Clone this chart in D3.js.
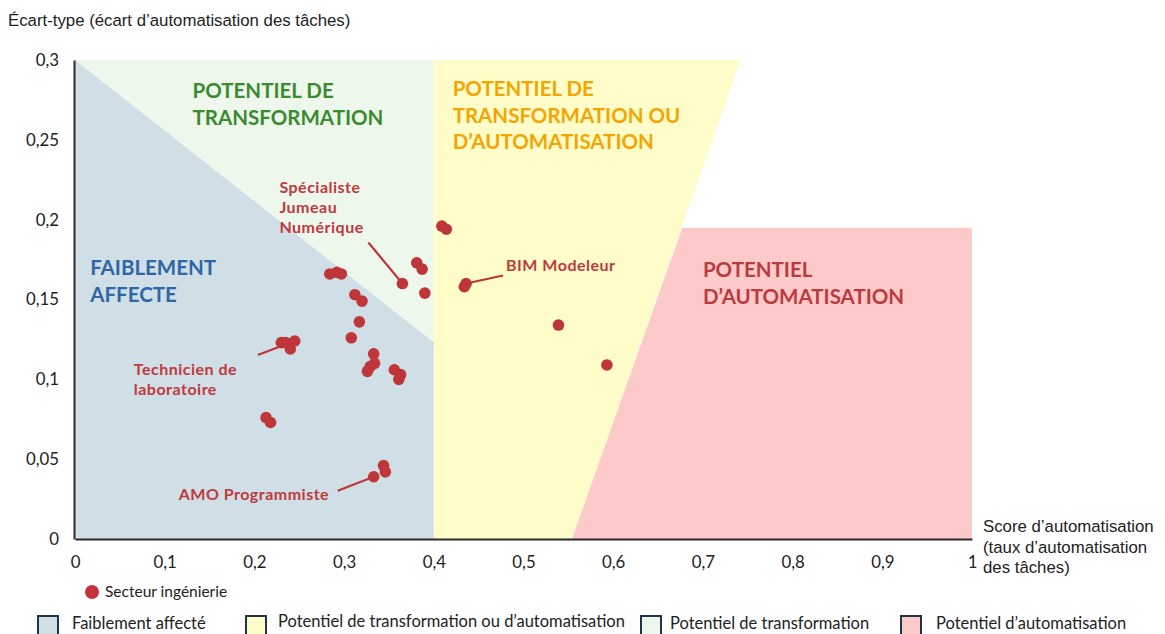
<!DOCTYPE html>
<html>
<head>
<meta charset="utf-8">
<script src="https://cdn.jsdelivr.net/npm/d3@7"></script>
<style>
  body { margin:0; background:#fff; }
  text { font-family: Lato, "Open Sans", sans-serif; }
</style>
</head>
<body>
<script>
// scatter: score d'automatisation (x) vs ecart-type (y), secteur ingenierie
var scoreAuto = [0.409,0.414,0.381,0.387,0.365,0.390,0.434,0.436,0.539,0.593,
  0.284,0.292,0.297,0.312,0.320,0.317,0.308,
  0.230,0.235,0.245,0.240,
  0.333,0.334,0.329,0.326,0.356,0.363,0.361,
  0.213,0.218,0.344,0.346,0.333];
var ecartType = [0.196,0.194,0.173,0.169,0.160,0.154,0.158,0.160,0.134,0.109,
  0.166,0.167,0.166,0.153,0.149,0.136,0.126,
  0.123,0.123,0.124,0.119,
  0.116,0.110,0.108,0.105,0.106,0.103,0.100,
  0.076,0.073,0.046,0.042,0.039];

var xTicks = [0,0.1,0.2,0.3,0.4,0.5,0.6,0.7,0.8,0.9,1];
var yTicks = [0,0.05,0.1,0.15,0.2,0.25,0.3];

// zones (data coords)
var zoneGreen  = [[0,0],[0,0.3],[0.4,0.3],[0.4,0]];
var zoneBlue   = [[0,0],[0,0.3],[0.4,0.123],[0.4,0]];
var zoneYellow = [[0.4,0],[0.4,0.3],[0.742,0.3],[0.554,0]];
var zonePink   = [[0.554,0],[0.677,0.195],[1,0.195],[1,0]];

// annotated points: index into the arrays above
var annoIdx   = [4, 7, 19, 32];
var annoText  = [['Spécialiste','Jumeau','Numérique'],['BIM Modeleur'],['Technicien de','laboratoire'],['AMO Programmiste']];

var legendNames = ['Faiblement affecté','Potentiel de transformation ou d\u2019automatisation','Potentiel de transformation','Potentiel d\u2019automatisation'];
var legendFills = ['#d0dee6','#fefcc8','#eef7ec','#fec9c9'];

var W = 1165, H = 634;
var svg = d3.select('body').append('svg').attr('width',W).attr('height',H);

var x = d3.scaleLinear().domain([0,1]).range([75,972]);
var y = d3.scaleLinear().domain([0,0.3]).range([539,60]);
var frNum = function(d){ return String(+d.toFixed(2)).replace('.',','); };

var line = d3.line().x(function(d){return x(d[0]);}).y(function(d){return y(d[1]);});
var zones = svg.append('g');
zones.append('path').attr('d',line(zoneGreen)+'Z').attr('fill','#eef7ec');
zones.append('path').attr('d',line(zoneBlue)+'Z').attr('fill','#d0dee6');
zones.append('path').attr('d',line(zoneYellow)+'Z').attr('fill','#fefcc8');
zones.append('path').attr('d',line(zonePink)+'Z').attr('fill','#fec9c9');

// zone titles
function zoneTitle(lines, px, py, col){
  var t = svg.append('text').attr('x',px).attr('y',py)
    .style('font-size','20.5px').style('font-weight',700).attr('fill',col);
  lines.forEach(function(l,i){
    t.append('tspan').attr('x',px).attr('dy', i==0?0:26.5).text(l);
  });
}
zoneTitle(['POTENTIEL DE','TRANSFORMATION'], x(0.131), 98, '#3b8a2f');
zoneTitle(['POTENTIEL DE','TRANSFORMATION OU','D\u2019AUTOMATISATION'], x(0.421), 96, '#f5a500');
zoneTitle(['FAIBLEMENT','AFFECTE'], x(0.017), 275, '#2e66a6');
zoneTitle(['POTENTIEL','D\u2019AUTOMATISATION'], x(0.700), 277, '#bb3a3f');

// axes
var xAxis = svg.append('g').attr('transform','translate(0,539)')
  .call(d3.axisBottom(x).tickValues(xTicks).tickSize(0).tickPadding(17).tickFormat(frNum));
var yAxis = svg.append('g').attr('transform','translate(74,0)')
  .call(d3.axisLeft(y).tickValues(yTicks).tickSize(0).tickPadding(15).tickFormat(frNum));
[xAxis,yAxis].forEach(function(a){
  a.select('.domain').attr('stroke','#2b2b2b').attr('stroke-width',2);
  a.selectAll('text').style('font-size','16.8px').attr('fill','#222').style('font-family','Lato, sans-serif');
});

// axis titles
svg.append('text').attr('x',8).attr('y',26).text('Écart-type (écart d\u2019automatisation des tâches)')
  .style('font-family','"Liberation Sans", Arial, sans-serif').style('font-size','16.8px').attr('fill','#222');
var xt = svg.append('text').attr('x',983).attr('y',532)
  .style('font-family','"Liberation Sans", Arial, sans-serif').style('font-size','16.8px').attr('fill','#222');
['Score d\u2019automatisation','(taux d\u2019automatisation','des tâches)'].forEach(function(l,i){
  xt.append('tspan').attr('x',983).attr('dy',i==0?0:20.5).text(l);
});

// points
var pts = d3.range(scoreAuto.length).map(function(i){ return {x:scoreAuto[i], y:ecartType[i]}; });
svg.append('g').selectAll('circle').data(pts).enter().append('circle')
  .attr('cx',function(d){return x(d.x);}).attr('cy',function(d){return y(d.y);})
  .attr('r',5.8).attr('fill','#be3639');

// annotations: label offset from the point, leader end offset
var annoLayout = [
  {tx:-123, ty:-91, lx:-34, ly:-41},
  {tx:40, ty:-13, lx:37, ly:-8},
  {tx:-161, ty:34, lx:-37, ly:14},
  {tx:-195, ty:23, lx:-36, ly:14}
];
annoIdx.forEach(function(idx,k){
  var p = pts[idx], L = annoLayout[k];
  var px = x(p.x), py = y(p.y);
  svg.append('line').attr('x1',px).attr('y1',py).attr('x2',px+L.lx).attr('y2',py+L.ly)
    .attr('stroke','#be3639').attr('stroke-width',2.2);
  var t = svg.append('text').attr('x',px+L.tx).attr('y',py+L.ty)
    .style('font-size','16px').style('font-weight',700).style('letter-spacing','0.5px').attr('fill','#c0393d');
  annoText[k].forEach(function(l,i){
    t.append('tspan').attr('x',px+L.tx).attr('dy',i==0?0:20).text(l);
  });
});

// legend: series
svg.append('circle').attr('cx',92).attr('cy',592).attr('r',7).attr('fill','#be3639');
svg.append('text').attr('x',105).attr('y',597).text('Secteur ingénierie')
  .style('font-size','15.5px').attr('fill','#222');

// legend: zones
var legX = [38, 246, 641, 901], legTX = [72, 278, 670, 936];
legendNames.forEach(function(n,i){
  svg.append('rect').attr('x',legX[i]).attr('y',616).attr('width',20).attr('height',24)
    .attr('fill',legendFills[i]).attr('stroke','#1d3546').attr('stroke-width',2);
  svg.append('text').attr('x',legTX[i]).attr('y', i==1 ? 627 : 629).text(n)
    .style('font-size','16.5px').attr('fill','#222');
});
</script>
</body>
</html>
